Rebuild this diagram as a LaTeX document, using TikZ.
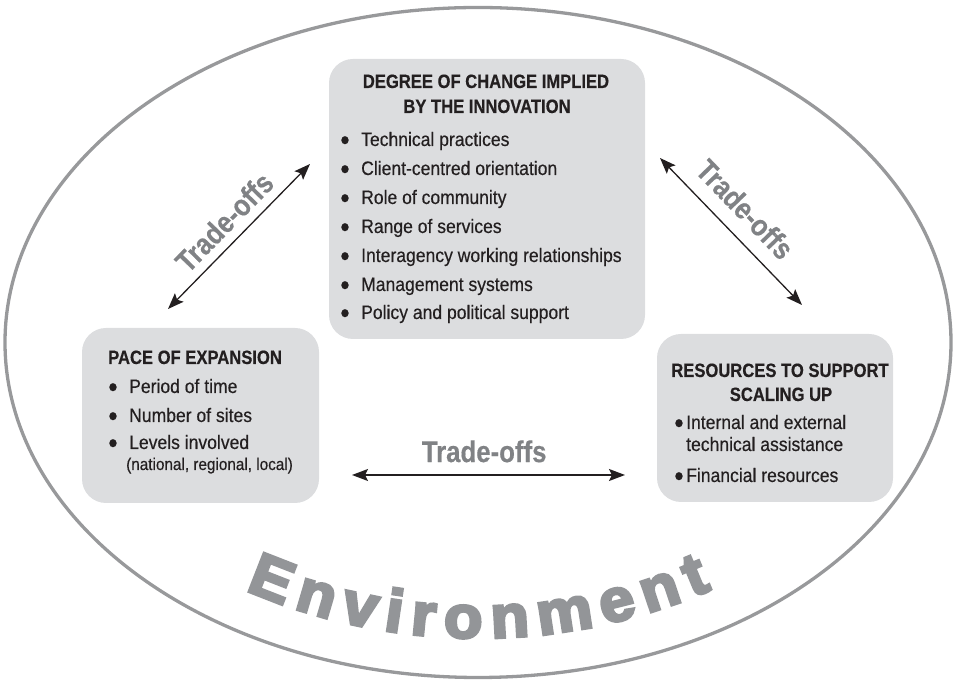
\documentclass[tikz,border=0pt]{standalone}
\usepackage{fontspec}
\usepackage{graphicx}
\usetikzlibrary{arrows.meta,decorations.text}
\setmainfont{Liberation Sans}
\newfontfamily\bodyfont{Liberation Sans}[FakeStretch=0.9,FakeBold=0.4]
\newfontfamily\headfont{Liberation Sans Bold}[FakeStretch=0.86,FakeBold=0.4]
\newfontfamily\envfont{Liberation Sans Bold}[FakeStretch=1.05,FakeBold=5]
\definecolor{ink}{HTML}{231F20}
\definecolor{boxfill}{HTML}{DCDDDF}
\definecolor{tradegray}{HTML}{808285}
\definecolor{envgray}{HTML}{939598}
\definecolor{ellgray}{HTML}{98999B}
\newcommand\bul[1]{\llap{\raisebox{-3.9pt}{\scalebox{1.5}{\textbullet}}\hspace{#1}}}
\begin{document}
\begin{tikzpicture}[x=1pt,y=1pt,
  box/.style={fill=boxfill, rounded corners=24pt, inner sep=0pt, draw=none},
  body/.style={font=\bodyfont\fontsize{19.5}{23}\selectfont, text=ink, inner sep=0pt, anchor=base west},
  head/.style={font=\headfont\fontsize{19.3}{23}\selectfont, text=ink, inner sep=0pt, anchor=base},
  headleft/.style={head, anchor=base west},
  small/.style={font=\bodyfont\fontsize{17}{20}\selectfont, text=ink, inner sep=0pt, anchor=base west},
  tradelbl/.style={font=\headfont\fontsize{30}{32}\selectfont, text=tradegray, inner sep=0pt},
  twoway/.style={{Stealth[length=16pt,width=12pt,inset=3pt]}-{Stealth[length=16pt,width=12pt,inset=3pt]}, line width=1.3pt, draw=ink}
]
\useasboundingbox (0,0) rectangle (956,685);
% environment ring
\draw[line width=3.3pt, draw=ellgray] (478,342.5) ellipse [x radius=473pt, y radius=335pt];
\coordinate (envc) at (478,633);
\path[decorate, decoration={text along path, text format delimiters={|}{|},
  text={|\envfont\fontsize{60}{60}\selectfont\color{envgray}|Environment},
  text align=fit to path}]
  ([shift={(246.6:586pt)}]envc) arc[start angle=246.6, end angle=293.5, radius=586pt];
% boxes
\node[box, minimum width=316pt, minimum height=280pt] (degree) at (487,486) {};
\node[box, minimum width=237pt, minimum height=175pt] (pace) at (200.5,269.5) {};
\node[box, minimum width=236pt, minimum height=168pt] (resources) at (775,267) {};
% degree box text
\node[head] (dh1) at (486,597) {DEGREE OF CHANGE IMPLIED};
\node[head] (dh2) at (487,572) {BY THE INNOVATION};
\node[body] (d1) at (361,539) {\bul{11.6pt}Technical practices};
\node[body] (d2) at (361,510) {\bul{11.6pt}Client-centred orientation};
\node[body] (d3) at (361,481) {\bul{11.6pt}Role of community};
\node[body] (d4) at (361,452) {\bul{11.6pt}Range of services};
\node[body] (d5) at (361,423) {\bul{11.6pt}Interagency working relationships};
\node[body] (d6) at (361,394) {\bul{11.6pt}Management systems};
\node[body] (d7) at (361,366) {\bul{11.6pt}Policy and political support};
% pace box text
\node[headleft] (ph) at (108,321) {PACE OF EXPANSION};
\node[body] (p1) at (129,292) {\bul{11.6pt}Period of time};
\node[body] (p2) at (129,263) {\bul{11.6pt}Number of sites};
\node[body] (p3) at (129,236) {\bul{11.6pt}Levels involved};
\node[small] (p4) at (126,215) {(national, regional, local)};
% resources box text
\node[head] (rh1) at (780,308) {RESOURCES TO SUPPORT};
\node[head] (rh2) at (781,284) {SCALING UP};
\node[body] (r1) at (686,256) {\bul{2.6pt}Internal and external};
\node[body] (r2) at (686,234) {technical assistance};
\node[body] (r3) at (686,203) {\bul{2.6pt}Financial resources};
% trade-off arrows
\coordinate (la1) at (168,376);
\coordinate (la2) at (310,521);
\coordinate (ra1) at (660,527);
\coordinate (ra2) at (802,380);
\coordinate (ba1) at (352,210);
\coordinate (ba2) at (625,210);
\draw[twoway] (la1) -- node[tradelbl, sloped, above=9pt] (lt) {Trade-offs} (la2);
\draw[twoway] (ra1) -- node[tradelbl, sloped, above=14pt, pos=0.47] (rt) {Trade-offs} (ra2);
\draw[twoway] (ba1) -- node[tradelbl, above=12pt, pos=0.484] (bt) {Trade-offs} (ba2);
\end{tikzpicture}
\end{document}
